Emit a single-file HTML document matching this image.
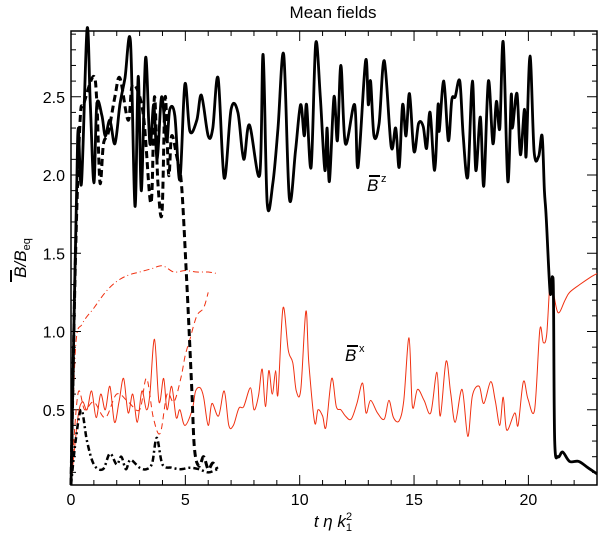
<!DOCTYPE html>
<html><head><meta charset="utf-8"><style>
body{margin:0;background:#fff;}
svg{display:block;font-family:"Liberation Sans",sans-serif;}
</style></head><body>
<svg id="chart" width="600" height="539" viewBox="0 0 600 539" xmlns="http://www.w3.org/2000/svg">
<text x="333" y="18" font-size="17" text-anchor="middle">Mean fields</text>
<g id="axes"></g>
<g id="series"></g>
<text x="367" y="191" font-size="17" font-style="italic">B</text>
<line x1="369" y1="176" x2="380" y2="176" stroke="#000" stroke-width="2"/>
<text x="381" y="182" font-size="11">z</text>
<text x="345" y="361" font-size="17" font-style="italic">B</text>
<line x1="347" y1="346" x2="358" y2="346" stroke="#000" stroke-width="2"/>
<text x="359" y="352" font-size="11">x</text>
<g transform="translate(26,258) rotate(-90)">
<text x="0" y="0" font-size="17" text-anchor="middle" font-style="italic">B/B<tspan font-size="11" dy="4" font-style="normal">eq</tspan></text>
<line x1="-24" y1="-15" x2="-12" y2="-15" stroke="#000" stroke-width="2"/>
</g>
<text x="333" y="527" font-size="17" text-anchor="middle" font-style="italic">t  η  k<tspan font-size="11" dy="4" font-style="normal">1</tspan><tspan font-size="11" dy="-11" dx="-6" font-style="normal">2</tspan></text>
</svg>
<script>
const bzT=[0,0.15,0.25,0.32,0.46,0.7,0.84,1.0,1.13,1.35,1.5,1.7,1.92,2.14,2.36,2.6,2.8,2.94,3.08,3.26,3.45,3.62,3.77,3.96,4.18,4.32,4.54,4.76,4.98,5.2,5.5,5.7,6.0,6.2,6.43,6.7,7.0,7.3,7.55,7.8,8.25,8.4,8.58,8.83,9.05,9.3,9.55,9.82,10.04,10.2,10.3,10.5,10.7,10.9,11.1,11.2,11.3,11.5,11.65,11.8,12.0,12.4,12.55,12.88,13.0,13.1,13.25,13.47,13.7,14.0,14.2,14.35,14.5,14.65,14.8,15.0,15.2,15.4,15.55,15.7,15.9,16.05,16.1,16.3,16.5,16.65,16.8,17.0,17.15,17.35,17.55,17.7,17.9,18.05,18.25,18.45,18.6,18.75,18.9,19.1,19.25,19.3,19.5,19.65,19.83,19.9,20.07,20.25,20.45,20.6,20.7,20.78,20.95,21.05,21.1,21.15,21.3,21.5,21.8,22.2,22.6,23];
const bzV=[0.02,1.2,1.92,2.3,1.95,2.93,2.47,1.95,2.45,2.38,2.25,2.35,2.2,2.45,2.62,2.85,1.8,2.63,1.9,2.75,2.2,2.45,2.1,2.5,2.22,2.42,2.38,1.97,2.58,2.28,2.35,2.51,2.25,2.3,2.62,1.98,2.42,2.4,2.1,2.32,2.0,2.77,1.82,1.95,2.3,2.77,1.85,2.16,2.45,2.25,2.45,2.05,2.84,2.5,2.03,2.3,1.96,2.5,2.22,2.7,2.2,2.45,2.05,2.73,2.45,2.6,2.25,2.33,2.73,2.18,2.3,2.05,2.45,2.25,2.52,2.15,2.33,2.31,2.17,2.4,2.03,2.45,2.28,2.6,2.22,2.48,2.5,2.6,2.25,1.99,2.6,2.03,2.37,1.93,2.6,2.2,2.47,2.3,2.85,1.96,2.51,2.3,2.52,2.13,2.42,2.12,2.76,2.15,2.12,2.25,1.9,1.73,1.25,1.35,1.2,0.3,0.2,0.23,0.17,0.17,0.13,0.09];
const bxT=[0,0.3,0.5,0.7,0.9,1.1,1.3,1.5,1.7,1.9,2.1,2.3,2.5,2.7,2.9,3.1,3.3,3.45,3.65,3.85,4.05,4.2,4.4,4.6,4.76,4.98,5.3,5.45,5.65,5.8,6.0,6.16,6.45,6.7,6.9,7.1,7.34,7.55,7.85,8.0,8.2,8.36,8.5,8.65,8.8,8.95,9.05,9.27,9.5,9.7,9.85,10.05,10.27,10.4,10.65,10.8,11.0,11.15,11.4,11.6,11.8,12.0,12.25,12.5,12.75,12.9,13.1,13.4,13.7,13.9,14.1,14.35,14.55,14.78,14.93,15.15,15.44,15.73,16.0,16.15,16.4,16.6,16.8,17.1,17.35,17.55,17.85,18.05,18.35,18.55,18.75,18.9,19.05,19.4,19.55,19.78,19.98,20.27,20.5,20.65,20.8,20.95,21.08,21.3,21.6,21.8,22.25,22.75,23];
const bxV=[0,0.45,0.55,0.5,0.62,0.45,0.6,0.5,0.65,0.42,0.55,0.7,0.48,0.6,0.42,0.62,0.5,0.6,0.95,0.55,0.7,0.5,0.65,0.45,0.5,0.4,0.5,0.62,0.64,0.58,0.4,0.54,0.46,0.62,0.4,0.4,0.51,0.52,0.64,0.5,0.59,0.76,0.52,0.75,0.6,0.75,0.6,1.15,0.88,0.8,0.62,0.63,1.13,0.8,0.42,0.5,0.46,0.39,0.7,0.52,0.5,0.46,0.44,0.54,0.67,0.48,0.56,0.48,0.44,0.56,0.45,0.43,0.56,0.96,0.52,0.63,0.56,0.48,0.74,0.46,0.81,0.61,0.42,0.63,0.33,0.59,0.65,0.54,0.68,0.56,0.4,0.58,0.37,0.48,0.4,0.68,0.57,0.5,1.01,0.93,0.98,1.32,1.26,1.12,1.2,1.25,1.3,1.35,1.37];
const dashT=[0,0.2,0.4,0.55,0.98,1.13,1.27,1.42,1.63,1.92,2.14,2.5,2.7,3.15,3.5,3.65,3.8,3.98,4.12,4.27,4.4,4.62,4.83,5.05,5.27,5.4,5.6,5.8,6.0,6.2,6.4];
const dashV=[0.02,1.5,2.35,2.45,2.63,2.47,1.95,2.2,2.27,2.5,2.62,2.35,2.58,2.4,1.82,2.5,1.95,1.76,2.5,2.0,2.25,2.12,1.94,1.35,0.67,0.25,0.14,0.2,0.12,0.16,0.12];
const dotT=[0,0.2,0.45,0.7,1.0,1.4,1.7,2.0,2.2,2.4,2.6,3.0,3.3,3.55,3.75,4.0,4.4,4.8,5.2,5.6,6.0,6.4];
const dotV=[0.02,0.3,0.5,0.3,0.15,0.12,0.22,0.15,0.2,0.12,0.18,0.13,0.12,0.16,0.32,0.15,0.13,0.12,0.13,0.12,0.1,0.12];
const rdT=[0,0.2,0.5,1.0,1.5,2.0,2.5,3.0,3.5,4.0,4.5,5.0,5.5,6.0,6.4];
const rdV=[0,0.9,1.05,1.15,1.25,1.32,1.36,1.38,1.4,1.42,1.38,1.39,1.38,1.38,1.37];
const rdashT=[0,0.3,0.6,1.0,1.5,2.0,2.5,3.0,3.3,3.6,3.9,4.2,4.5,4.8,5.0,5.2,5.5,5.8,6.0];
const rdashV=[0,0.6,0.5,0.55,0.45,0.6,0.55,0.5,0.7,0.45,0.35,0.6,0.55,0.7,0.85,0.95,1.1,1.15,1.25];
const xTicks=[0,5,10,15,20];
const yTicks=[0.5,1.0,1.5,2.0,2.5];

const L=71,R=597,T=31,B=485;
const xs=t=>L+t*(R-L)/23;
const ys=v=>488-v*156.5;
const NS='http://www.w3.org/2000/svg';
const ax=document.getElementById('axes');
function mk(tag,at,parent){const e=document.createElementNS(NS,tag);for(const k in at)e.setAttribute(k,at[k]);parent.appendChild(e);return e;}
const frame=mk('rect',{x:L,y:T,width:R-L,height:B-T,fill:'none',stroke:'#000','stroke-width':1.5},ax);


for(let t=0;t<=23;t++){const maj=t%5===0;const len=maj?10:5;
 mk('line',{x1:xs(t),x2:xs(t),y1:B,y2:B-len,stroke:'#000'},ax);
 mk('line',{x1:xs(t),x2:xs(t),y1:T,y2:T+len,stroke:'#000'},ax);}
xTicks.forEach(t=>{const e=mk('text',{x:xs(t),y:B+20,'font-size':16,'text-anchor':'middle'},ax);e.textContent=String(t);
 
 });
for(let i=1;i<=29;i++){const v=i/10;const y=ys(v);if(y<T||y>B)continue;const maj=i%5===0;const len=maj?10:5;
 mk('line',{x1:L,x2:L+len,y1:y,y2:y,stroke:'#000'},ax);
 mk('line',{x1:R,x2:R-len,y1:y,y2:y,stroke:'#000'},ax);}
yTicks.forEach(v=>{const e=mk('text',{x:L-6,y:ys(v)+6,'font-size':16,'text-anchor':'end'},ax);e.textContent=v.toFixed(1);
 
 });
const sg=document.getElementById('series');
function line(tArr,vArr,name,stroke,w,dash){
 const P=tArr.map((t,i)=>[xs(t),Math.min(ys(Math.max(vArr[i],0.02)),B)]);
 let d='M'+P[0][0].toFixed(1)+','+P[0][1].toFixed(1);
 for(let i=0;i<P.length-1;i++){
  const p0=P[Math.max(i-1,0)],p1=P[i],p2=P[i+1],p3=P[Math.min(i+2,P.length-1)];
  const c1=[p1[0]+(p2[0]-p0[0])/6,p1[1]+(p2[1]-p0[1])/6];
  const c2=[p2[0]-(p3[0]-p1[0])/6,p2[1]-(p3[1]-p1[1])/6];
  d+='C'+c1[0].toFixed(1)+','+c1[1].toFixed(1)+' '+c2[0].toFixed(1)+','+c2[1].toFixed(1)+' '+p2[0].toFixed(1)+','+p2[1].toFixed(1);
 }
 const p=mk('path',{d:d,fill:'none',stroke:stroke,'stroke-width':w,'stroke-linejoin':'round'},sg);
 if(dash)p.setAttribute('stroke-dasharray',dash);
 
 }
line(rdT,rdV,'bx-run2-dashdot-red','#f03010',1,'6,3,1,3');
line(rdashT,rdashV,'bx-run3-dashed-red','#f03010',1,'6,4');
line(bxT,bxV,'bx-solid-red','#f03010',1,null);
line(dotT,dotV,'bz-run2-dashdot-black','#000',2.5,'6,3,2,3');
line(dashT,dashV,'bz-run3-dashed-black','#000',3,'7,4');
line(bzT,bzV,'bz-solid-black','#000',2.8,null);
</script>
</body></html>
